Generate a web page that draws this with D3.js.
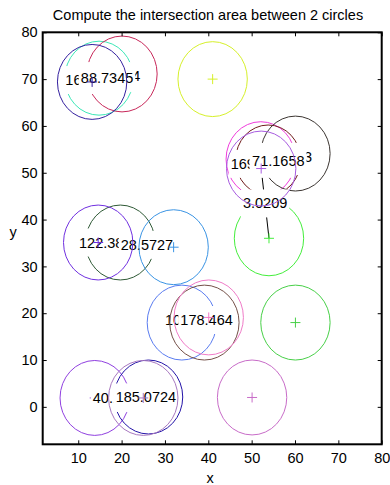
<!DOCTYPE html>
<html><head><meta charset="utf-8">
<script src="https://cdn.jsdelivr.net/npm/d3@7"></script>
<style>
html,body{margin:0;padding:0;background:#fff;}
svg{display:block;font-family:"Liberation Sans",Arial,Helvetica,sans-serif;}
</style></head>
<body>
<svg id="chart" width="390" height="485"></svg>
<script>
// ---- data ----
const titleText = "Compute the intersection area between 2 circles";
const xTicks = [10, 20, 30, 40, 50, 60, 70, 80];
const yTicks = [0, 10, 20, 30, 40, 50, 60, 70, 80];
const xDomain = [1.8, 80];
const yDomain = [-8, 80];

// circles: centre x, centre y, radius (data units)
const circleX = [13.2, 14.8, 20.1, 41.0, 52.1, 53.8, 52.2, 60.1, 54.0, 14.6, 19.7, 32.0, 33.9, 39.1, 40.1, 60.1, 13.8, 25.0, 26.2, 50.1];
const circleY = [69.4, 70.2, 71.1, 70.0, 52.9, 52.7, 50.9, 54.1, 36.0, 35.1, 35.1, 34.1, 18.0, 18.0, 19.1, 18.0, 1.9, 1.9, 2.1, 2.0];
const circleR = [8.0, 7.9, 8.1, 8.0, 8.0, 7.5, 8.0, 8.0, 8.0, 8.0, 8.0, 8.0, 8.0, 8.0, 8.0, 8.0, 8.0, 8.0, 7.9, 8.0];
const circleColor = ["#34209f", "#3de8b8", "#c8285a", "#d6f02a", "#f03cdc", "#701c1c", "#a85ce0", "#3c3632", "#44ee3c", "#7030e0",
                     "#2f5a36", "#3a94e4", "#5a7cf0", "#745048", "#f07cc8", "#48d048", "#9040e0", "#a878c0", "#2414a8", "#c86cc8"];
// 1 = drawn after the labels
const circleOnTop = [1, 0, 0, 0, 0, 0, 1, 0, 0, 1, 0, 1, 0, 1, 1, 0, 0, 1, 0, 0];
// centre "+" : 0 none, 1 under labels, 2 over labels
const centerMark = [2, 0, 0, 2, 0, 0, 2, 0, 2, 2, 0, 2, 0, 0, 2, 2, 1, 2, 0, 2];

// intersection-area labels (placed at the midpoint of the two centres), in drawing order
const labelText = ["165.2803", "117.9364", "88.7345", "122.3861", "28.5727", "169.4402", "103.5283", "71.1658", "3.0209", "104.8153", "178.464", "40.1386", "185.0724"];
const labelPairA = [0, 1, 0, 9, 10, 4, 5, 6, 6, 12, 13, 16, 17];
const labelPairB = [1, 2, 2, 10, 11, 6, 7, 7, 8, 14, 14, 17, 18];

// centre-to-centre connector lines
const linkA = [6];
const linkB = [8];

// ---- layout ----
const svg = d3.select("#chart");
const L = 42.7, R = 381.7, T = 32.3, B = 444.3;
const FS = 14.5;
const x = d3.scaleLinear().domain(xDomain).range([L, R]);
const y = d3.scaleLinear().domain(yDomain).range([B, T]);

svg.append("defs").append("clipPath").attr("id", "clip")
  .append("rect").attr("x", L).attr("y", T).attr("width", R - L).attr("height", B - T);

const plot = svg.append("g").attr("clip-path", "url(#clip)");
const idx = d3.range(circleX.length);

function drawCircles(g, list) {
  g.selectAll("ellipse.c").data(list).join("ellipse")
    .attr("class", "c")
    .attr("cx", i => x(circleX[i]))
    .attr("cy", i => y(circleY[i]))
    .attr("rx", i => x(circleR[i]) - x(0))
    .attr("ry", i => y(0) - y(circleR[i]))
    .attr("fill", "none")
    .attr("stroke", i => circleColor[i])
    .attr("stroke-width", 1);
}
function drawMarks(g, list) {
  const s = 5;
  const m = g.selectAll("g.m").data(list).join("g").attr("class", "m")
    .attr("transform", i => `translate(${x(circleX[i])},${y(circleY[i])})`);
  m.append("line").attr("x1", -s).attr("x2", s).attr("y1", 0).attr("y2", 0)
    .attr("stroke", i => circleColor[i]).attr("stroke-width", 1);
  m.append("line").attr("x1", 0).attr("x2", 0).attr("y1", -s).attr("y2", s)
    .attr("stroke", i => circleColor[i]).attr("stroke-width", 1);
}

// layer 0: lower circles, connectors, lower marks
const g0 = plot.append("g");
drawCircles(g0, idx.filter(i => !circleOnTop[i]));
g0.selectAll("line.link").data(d3.range(linkA.length)).join("line")
  .attr("class", "link")
  .attr("x1", k => x(circleX[linkA[k]])).attr("y1", k => y(circleY[linkA[k]]))
  .attr("x2", k => x(circleX[linkB[k]])).attr("y2", k => y(circleY[linkB[k]]))
  .attr("stroke", "#000").attr("stroke-width", 1);
drawMarks(g0, idx.filter(i => centerMark[i] === 1));

// layer 1: labels with white background
const gl = plot.append("g");
labelText.forEach((t, k) => {
  const a = labelPairA[k], b = labelPairB[k];
  const mx = x((circleX[a] + circleX[b]) / 2);
  const my = y((circleY[a] + circleY[b]) / 2);
  const lg = gl.append("g");
  const rect = lg.append("rect").attr("fill", "#fff");
  const txt = lg.append("text").attr("x", mx).attr("y", my)
    .attr("text-anchor", "middle").attr("dominant-baseline", "central")
    .attr("font-size", FS).attr("fill", "#000").text(t);
  const w = txt.node().getComputedTextLength();
  rect.attr("x", mx - w / 2 - 2).attr("y", my - 14).attr("width", w + 4).attr("height", 28);
});

// layer 2: upper circles and marks
const g2 = plot.append("g");
drawCircles(g2, idx.filter(i => circleOnTop[i]));
drawMarks(g2, idx.filter(i => centerMark[i] === 2));

// ---- axes ----
const ax = svg.append("g");
ax.append("g").attr("transform", `translate(0,${B})`)
  .call(d3.axisBottom(x).tickValues(xTicks).tickSize(-4).tickPadding(8).tickFormat(d3.format("d")));
ax.append("g").attr("transform", `translate(0,${T})`)
  .call(d3.axisTop(x).tickValues(xTicks).tickSize(-4).tickFormat(""));
ax.append("g").attr("transform", `translate(${L},0)`)
  .call(d3.axisLeft(y).tickValues(yTicks).tickSize(-4).tickPadding(5).tickFormat(d3.format("d")));
ax.append("g").attr("transform", `translate(${R},0)`)
  .call(d3.axisRight(y).tickValues(yTicks).tickSize(-4).tickFormat(""));
ax.selectAll(".domain").remove();
ax.selectAll(".tick line").attr("stroke", "#000").attr("stroke-width", 1);
ax.selectAll(".tick text").attr("font-size", FS).attr("fill", "#000").attr("font-family", "Liberation Sans, Arial, sans-serif");

svg.append("rect").attr("x", L).attr("y", T).attr("width", R - L).attr("height", B - T)
  .attr("fill", "none").attr("stroke", "#000").attr("stroke-width", 2);

// ---- titles ----
svg.append("text").attr("x", 208).attr("y", 20).attr("text-anchor", "middle")
  .attr("font-size", FS).attr("fill", "#000").text(titleText);
svg.append("text").attr("x", 210).attr("y", 483).attr("text-anchor", "middle")
  .attr("font-size", FS).attr("fill", "#000").text("x");
svg.append("text").attr("x", 13).attr("y", 237).attr("text-anchor", "middle")
  .attr("font-size", FS).attr("fill", "#000").text("y");
</script>
</body></html>
